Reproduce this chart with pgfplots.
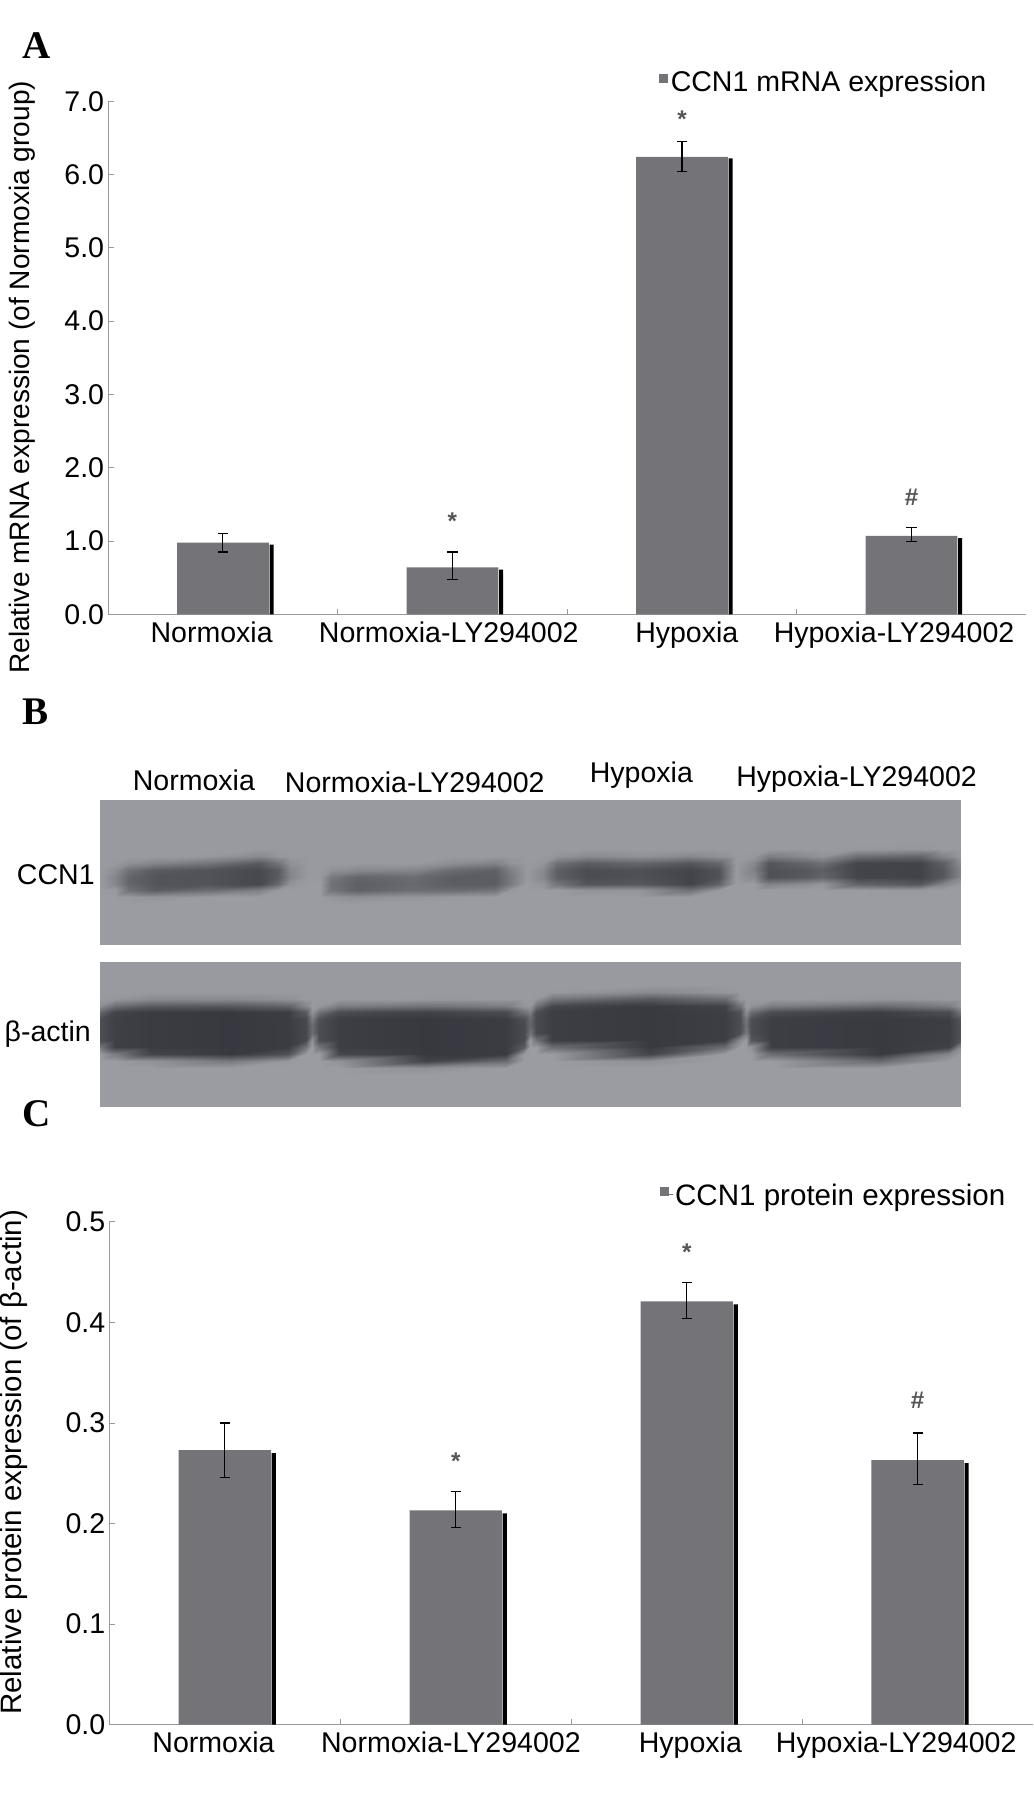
\documentclass[border=0pt]{standalone}
\usepackage{fontspec}
\setmainfont{Liberation Sans}
\newfontfamily\serifb{Liberation Serif}
\usepackage{pgfplots}
\pgfplotsset{compat=1.18}
\definecolor{barg}{HTML}{737378}
\definecolor{axg}{HTML}{9A9A9A}
\definecolor{sig}{HTML}{555555}
\newcommand{\lab}{\fontsize{24.8}{28}\selectfont}
\pgfplotsset{
  barpanel/.style={
    scale only axis, anchor=south west, clip=false,
    axis x line=bottom, axis y line=left,
    axis line style={-, axg, line width=1pt},
    tick style={axg, line width=.7pt},
    tick align=inside, major tick length=5pt,
    xmin=-0.5, xmax=3.5, ymin=0,
    xtick={0.5,1.5,2.5}, xticklabels={,,},
    extra x tick style={major tick length=0pt},
    tick label style={font=\lab, text=black},
    xticklabel style={yshift=-3pt},
    yticklabel style={/pgf/number format/.cd, fixed, fixed zerofill, assume math mode=true},
    legend style={draw=none, fill=none, font=\lab, anchor=west, inner sep=0pt},
    legend image code/.code={\fill[barg] (0pt,-1pt) rectangle (8pt,7pt);},
  },
  graybar/.style={ybar, bar shift=0pt, bar width=0.4, fill=barg, draw=none,
    error bars/.cd, y dir=both, y explicit,
    error bar style={black, line width=1pt},
    error mark options={black, rotate=90, mark size=4.5pt, line width=1pt}},
  strip/.style={ybar, bar shift=0.212, bar width=0.018, fill=black, draw=none, forget plot},
  sigmark/.style={draw=none, mark=none, forget plot, point meta=explicit symbolic,
    nodes near coords, nodes near coords align=center,
    nodes near coords style={font=\fontsize{21}{22}\bfseries, text=sig, inner sep=0pt}},
  blot/.style={
    scale only axis, anchor=south west, hide axis, view={0}{90},
    xmin=87, xmax=835, y dir=reverse, width=748pt, height=126pt,
    colormap={blotgrey}{rgb255(0cm)=(0,0,8); rgb255(6cm)=(156,156,163); rgb255(10cm)=(255,255,255)},
    point meta min=0, point meta max=255,
  },
}
\begin{document}
\begin{tikzpicture}[x=1pt,y=1pt]
\useasboundingbox (0,0) rectangle (898,1568);

% panel A
\begin{axis}[barpanel, at={(94pt,1034pt)}, width=798pt, height=446pt, ymax=7,
  ytick={0,1,2,3,4,5,6,7},
  yticklabel style={/pgf/number format/precision=1},
  extra x ticks={-0.049,0.984,2.021,2.924},
  extra x tick labels={Normoxia,Normoxia-LY294002,Hypoxia,Hypoxia-LY294002},
  legend style={at={(0.600,1.038)}},
]
\addplot[strip] coordinates {(0,0.95) (1,0.61) (2,6.22) (3,1.04)};
\addplot[graybar] coordinates {
  (0,0.98) += (0,0.12) -= (0,0.13)
  (1,0.64) += (0,0.21) -= (0,0.16)
  (2,6.24) += (0,0.21) -= (0,0.20)
  (3,1.07) += (0,0.11) -= (0,0.08)};
\addlegendentry{CCN1 mRNA expression}
\addplot[sigmark] coordinates {(1,1.27)[*] (2,6.76)[*] (3,1.60)[\#]};
\end{axis}

% panel B, the two blot strips as grey value grids
\begin{axis}[blot, at={(87pt,747pt)}, ymin=695, ymax=821]
\addplot3[surf, shader=interp, mesh/cols=32] coordinates {
(87,695,150) (100,695,150) (112,695,150) (135,695,150) (180,695,150) (225,695,150) (242,695,150) (252,695,150) (268,695,150) (278,695,150) (288,695,150) (310,695,150) (360,695,150) (395,695,150) (430,695,150) (444,695,150) (458,695,150) (472,695,150) (484,695,150) (510,695,150) (555,695,150) (600,695,150) (625,695,150) (640,695,150) (655,695,150) (668,695,150) (700,695,150) (714,695,150) (745,695,150) (800,695,150) (820,695,150) (835,695,150)
(87,732,150) (100,732,150) (112,732,150) (135,732,150) (180,732,150) (225,732,150) (242,732,150) (252,732,150) (268,732,150) (278,732,150) (288,732,150) (310,732,150) (360,732,150) (395,732,150) (430,732,150) (444,732,150) (458,732,150) (472,732,150) (484,732,150) (510,732,150) (555,732,150) (600,732,150) (625,732,150) (640,732,150) (655,732,150) (668,732,150) (700,732,150) (714,732,150) (745,732,150) (800,732,150) (820,732,150) (835,732,150)
(87,738,150) (100,738,150) (112,738,150) (135,738,150) (180,738,150) (225,738,150) (242,738,150) (252,738,150) (268,738,150) (278,738,150) (288,738,150) (310,738,150) (360,738,150) (395,738,150) (430,738,150) (444,738,150) (458,738,150) (472,738,150) (484,738,150) (510,738,150) (555,738,150) (600,738,150) (625,738,150) (640,738,150) (655,738,150) (668,738,150) (700,738,150) (714,738,150) (745,738,149) (800,738,146) (820,738,150) (835,738,150)
(87,744,150) (100,744,150) (112,744,150) (135,744,150) (180,744,149) (225,744,134) (242,744,147) (252,744,150) (268,744,150) (278,744,150) (288,744,150) (310,744,150) (360,744,150) (395,744,150) (430,744,150) (444,744,150) (458,744,150) (472,744,150) (484,744,144) (510,744,135) (555,744,142) (600,744,133) (625,744,142) (640,744,150) (655,744,147) (668,744,122) (700,744,137) (714,744,144) (745,744,108) (800,744,99) (820,744,130) (835,744,149)
(87,750,150) (100,750,149) (112,750,140) (135,750,130) (180,750,115) (225,750,87) (242,750,113) (252,750,142) (268,750,150) (278,750,150) (288,750,150) (310,750,150) (360,750,150) (395,750,138) (430,750,127) (444,750,144) (458,750,150) (472,750,145) (484,750,109) (510,750,90) (555,750,99) (600,750,84) (625,750,100) (640,750,150) (655,750,132) (668,750,82) (700,750,98) (714,750,109) (745,750,67) (800,750,65) (820,750,92) (835,750,138)
(87,756,150) (100,756,138) (112,756,109) (135,756,89) (180,756,81) (225,756,70) (242,756,88) (252,756,131) (268,756,150) (278,756,150) (288,756,142) (310,756,133) (360,756,131) (395,756,103) (430,756,94) (444,756,125) (458,756,150) (472,756,134) (484,756,92) (510,756,74) (555,756,78) (600,756,66) (625,756,80) (640,756,150) (655,756,125) (668,756,78) (700,756,84) (714,756,92) (745,756,66) (800,756,65) (820,756,85) (835,756,130)
(87,762,150) (100,762,130) (112,762,98) (135,762,82) (180,762,80) (225,762,70) (242,762,88) (252,762,130) (268,762,150) (278,762,150) (288,762,118) (310,762,98) (360,762,105) (395,762,90) (430,762,90) (444,762,118) (458,762,150) (472,762,132) (484,762,92) (510,762,74) (555,762,78) (600,762,66) (625,762,80) (640,762,150) (655,762,134) (668,762,78) (700,762,86) (714,762,98) (745,762,66) (800,762,65) (820,762,85) (835,762,132)
(87,768,152) (100,768,132) (112,768,98) (135,768,82) (180,768,80) (225,768,70) (242,768,102) (252,768,144) (268,768,152) (278,768,152) (288,768,110) (310,768,92) (360,768,102) (395,768,90) (430,768,90) (444,768,121) (458,768,152) (472,768,145) (484,768,113) (510,768,82) (555,768,85) (600,768,66) (625,768,96) (640,768,152) (655,768,152) (668,768,126) (700,768,137) (714,768,146) (745,768,96) (800,768,84) (820,768,129) (835,768,150)
(87,774,152) (100,774,150) (112,774,110) (135,774,89) (180,774,105) (225,774,123) (242,774,150) (252,774,152) (268,774,152) (278,774,152) (288,774,114) (310,774,94) (360,774,107) (395,774,104) (430,774,112) (444,774,149) (458,774,152) (472,774,152) (484,774,152) (510,774,144) (555,774,145) (600,774,109) (625,774,150) (640,774,152) (655,774,152) (668,774,152) (700,774,152) (714,774,152) (745,774,152) (800,774,149) (820,774,152) (835,774,152)
(87,780,152) (100,780,152) (112,780,150) (135,780,145) (180,780,152) (225,780,152) (242,780,152) (252,780,152) (268,780,152) (278,780,152) (288,780,148) (310,780,139) (360,780,147) (395,780,150) (430,780,152) (444,780,152) (458,780,152) (472,780,152) (484,780,152) (510,780,152) (555,780,152) (600,780,152) (625,780,152) (640,780,152) (655,780,152) (668,780,152) (700,780,152) (714,780,152) (745,780,152) (800,780,152) (820,780,152) (835,780,152)
(87,786,152) (100,786,152) (112,786,152) (135,786,152) (180,786,152) (225,786,152) (242,786,152) (252,786,152) (268,786,152) (278,786,152) (288,786,152) (310,786,152) (360,786,152) (395,786,152) (430,786,152) (444,786,152) (458,786,152) (472,786,152) (484,786,152) (510,786,152) (555,786,152) (600,786,152) (625,786,152) (640,786,152) (655,786,152) (668,786,152) (700,786,152) (714,786,152) (745,786,152) (800,786,152) (820,786,152) (835,786,152)
(87,821,152) (100,821,152) (112,821,152) (135,821,152) (180,821,152) (225,821,152) (242,821,152) (252,821,152) (268,821,152) (278,821,152) (288,821,152) (310,821,152) (360,821,152) (395,821,152) (430,821,152) (444,821,152) (458,821,152) (472,821,152) (484,821,152) (510,821,152) (555,821,152) (600,821,152) (625,821,152) (640,821,152) (655,821,152) (668,821,152) (700,821,152) (714,821,152) (745,821,152) (800,821,152) (820,821,152) (835,821,152)
};
\end{axis}
\begin{axis}[blot, at={(87pt,606pt)}, ymin=836, ymax=962]
\addplot3[surf, shader=interp, mesh/cols=24] coordinates {
(87,836,150) (100,836,150) (130,836,150) (200,836,150) (250,836,150) (266,836,150) (271,836,150) (277,836,150) (295,836,150) (370,836,150) (440,836,150) (455,836,150) (461,836,150) (466,836,150) (480,836,150) (565,836,150) (630,836,150) (643,836,150) (648,836,150) (653,836,150) (670,836,150) (765,836,150) (825,836,150) (835,836,150)
(87,856,150) (100,856,150) (130,856,150) (200,856,150) (250,856,150) (266,856,150) (271,856,150) (277,856,150) (295,856,150) (370,856,150) (440,856,150) (455,856,150) (461,856,150) (466,856,150) (480,856,150) (565,856,150) (630,856,150) (643,856,150) (648,856,150) (653,856,150) (670,856,150) (765,856,150) (825,856,150) (835,856,150)
(87,862,150) (100,862,150) (130,862,150) (200,862,150) (250,862,150) (266,862,150) (271,862,150) (277,862,150) (295,862,150) (370,862,150) (440,862,150) (455,862,150) (461,862,150) (466,862,150) (480,862,149) (565,862,135) (630,862,146) (643,862,150) (648,862,150) (653,862,150) (670,862,150) (765,862,150) (825,862,150) (835,862,150)
(87,868,150) (100,868,146) (130,868,135) (200,868,135) (250,868,142) (266,868,150) (271,868,150) (277,868,150) (295,868,150) (370,868,149) (440,868,150) (455,868,150) (461,868,150) (466,868,147) (480,868,113) (565,868,86) (630,868,105) (643,868,147) (648,868,150) (653,868,150) (670,868,150) (765,868,146) (825,868,150) (835,868,150)
(87,874,138) (100,874,106) (130,874,87) (200,874,85) (250,874,96) (266,874,132) (271,874,150) (277,874,147) (295,874,121) (370,874,111) (440,874,121) (455,874,147) (461,874,148) (466,874,111) (480,874,68) (565,874,56) (630,874,64) (643,874,112) (648,874,150) (653,874,143) (670,874,121) (765,874,103) (825,874,121) (835,874,147)
(87,880,99) (100,880,66) (130,880,58) (200,880,55) (250,880,59) (266,880,88) (271,880,143) (277,880,112) (295,880,74) (370,880,64) (440,880,73) (455,880,111) (461,880,125) (466,880,75) (480,880,60) (565,880,56) (630,880,60) (643,880,78) (648,880,137) (653,880,106) (670,880,74) (765,880,60) (825,880,74) (835,880,115)
(87,886,75) (100,886,62) (130,886,58) (200,886,55) (250,886,58) (266,886,70) (271,886,119) (277,886,78) (295,886,60) (370,886,55) (440,886,58) (455,886,75) (461,886,102) (466,886,72) (480,886,60) (565,886,56) (630,886,60) (643,886,75) (648,886,116) (653,886,76) (670,886,60) (765,886,56) (825,886,60) (835,886,83)
(87,892,75) (100,892,62) (130,892,58) (200,892,55) (250,892,58) (266,892,70) (271,892,105) (277,892,75) (295,892,60) (370,892,55) (440,892,58) (455,892,72) (461,892,100) (466,892,72) (480,892,60) (565,892,56) (630,892,60) (643,892,75) (648,892,110) (653,892,75) (670,892,60) (765,892,56) (825,892,60) (835,892,80)
(87,898,75) (100,898,62) (130,898,58) (200,898,55) (250,898,58) (266,898,70) (271,898,106) (277,898,75) (295,898,60) (370,898,55) (440,898,58) (455,898,72) (461,898,111) (466,898,72) (480,898,60) (565,898,56) (630,898,60) (643,898,77) (648,898,119) (653,898,75) (670,898,60) (765,898,56) (825,898,60) (835,898,80)
(87,904,75) (100,904,62) (130,904,58) (200,904,55) (250,904,58) (266,904,70) (271,904,142) (277,904,75) (295,904,60) (370,904,55) (440,904,58) (455,904,72) (461,904,150) (466,904,112) (480,904,60) (565,904,56) (630,904,60) (643,904,135) (648,904,151) (653,904,83) (670,904,60) (765,904,56) (825,904,60) (835,904,82)
(87,910,113) (100,910,62) (130,910,58) (200,910,55) (250,910,58) (266,910,111) (271,910,152) (277,910,113) (295,910,60) (370,910,55) (440,910,58) (455,910,90) (461,910,152) (466,910,152) (480,910,106) (565,910,56) (630,910,106) (643,910,152) (648,910,152) (653,910,144) (670,910,60) (765,910,56) (825,910,63) (835,910,136)
(87,916,152) (100,916,120) (130,916,67) (200,916,55) (250,916,79) (266,916,152) (271,916,152) (277,916,152) (295,916,69) (370,916,55) (440,916,58) (455,916,150) (461,916,152) (466,916,152) (480,916,152) (565,916,66) (630,916,152) (643,916,152) (648,916,152) (653,916,152) (670,916,106) (765,916,56) (825,916,132) (835,916,152)
(87,922,152) (100,922,152) (130,922,143) (200,922,118) (250,922,149) (266,922,152) (271,922,152) (277,922,152) (295,922,143) (370,922,65) (440,922,105) (455,922,152) (461,922,152) (466,922,152) (480,922,152) (565,922,142) (630,922,152) (643,922,152) (648,922,152) (653,922,152) (670,922,152) (765,922,104) (825,922,152) (835,922,152)
(87,928,152) (100,928,152) (130,928,152) (200,928,152) (250,928,152) (266,928,152) (271,928,152) (277,928,152) (295,928,152) (370,928,142) (440,928,152) (455,928,152) (461,928,152) (466,928,152) (480,928,152) (565,928,152) (630,928,152) (643,928,152) (648,928,152) (653,928,152) (670,928,152) (765,928,152) (825,928,152) (835,928,152)
(87,934,152) (100,934,152) (130,934,152) (200,934,152) (250,934,152) (266,934,152) (271,934,152) (277,934,152) (295,934,152) (370,934,152) (440,934,152) (455,934,152) (461,934,152) (466,934,152) (480,934,152) (565,934,152) (630,934,152) (643,934,152) (648,934,152) (653,934,152) (670,934,152) (765,934,152) (825,934,152) (835,934,152)
(87,962,152) (100,962,152) (130,962,152) (200,962,152) (250,962,152) (266,962,152) (271,962,152) (277,962,152) (295,962,152) (370,962,152) (440,962,152) (455,962,152) (461,962,152) (466,962,152) (480,962,152) (565,962,152) (630,962,152) (643,962,152) (648,962,152) (653,962,152) (670,962,152) (765,962,152) (825,962,152) (835,962,152)
};
\end{axis}

% panel C
\begin{axis}[barpanel, at={(95pt,69pt)}, width=803pt, height=437pt, ymax=0.5,
  ytick={0,0.1,0.2,0.3,0.4,0.5},
  yticklabel style={/pgf/number format/precision=1},
  extra x ticks={-0.049,0.979,2.016,2.907},
  extra x tick labels={Normoxia,Normoxia-LY294002,Hypoxia,Hypoxia-LY294002},
  legend style={at={(0.596,1.053)}, font=\fontsize{25.7}{28}\selectfont},
  legend image code/.code={\fill[barg] (0pt,-1pt) rectangle (8pt,7pt); \path (0pt,0pt) rectangle (11pt,1pt);},
]
\addplot[strip] coordinates {(0,0.270) (1,0.210) (2,0.418) (3,0.260)};
\addplot[graybar] coordinates {
  (0,0.273) += (0,0.027) -= (0,0.027)
  (1,0.213) += (0,0.019) -= (0,0.017)
  (2,0.421) += (0,0.019) -= (0,0.017)
  (3,0.263) += (0,0.027) -= (0,0.024)};
\addlegendentry{CCN1 protein expression}
\addplot[sigmark] coordinates {(1,0.262)[*] (2,0.470)[*] (3,0.323)[\#]};
\end{axis}

% text outside the axes
\node[rotate=90,font=\fontsize{24.4}{26}\selectfont] at (19,1240) {Relative mRNA expression (of Normoxia group)};
\node[rotate=90,font=\fontsize{25.6}{28}\selectfont] at (12.5,297) {Relative protein expression (of β-actin)};
\node[font=\lab] at (168.5,890) {Normoxia};
\node[font=\lab] at (360.5,888) {Normoxia-LY294002};
\node[font=\lab] at (557.5,894) {Hypoxia};
\node[font=\lab] at (744.5,891) {Hypoxia-LY294002};
\node[font=\lab] at (48.5,808) {CCN1};
\node[font=\lab] at (41.5,669) {β-actin};
\node[font=\serifb\fontsize{34}{36}\bfseries] at (32,1528) {A};
\node[font=\serifb\fontsize{34}{36}\bfseries] at (31,949) {B};
\node[font=\serifb\fontsize{34}{36}\bfseries] at (32,600) {C};
\end{tikzpicture}
\end{document}
